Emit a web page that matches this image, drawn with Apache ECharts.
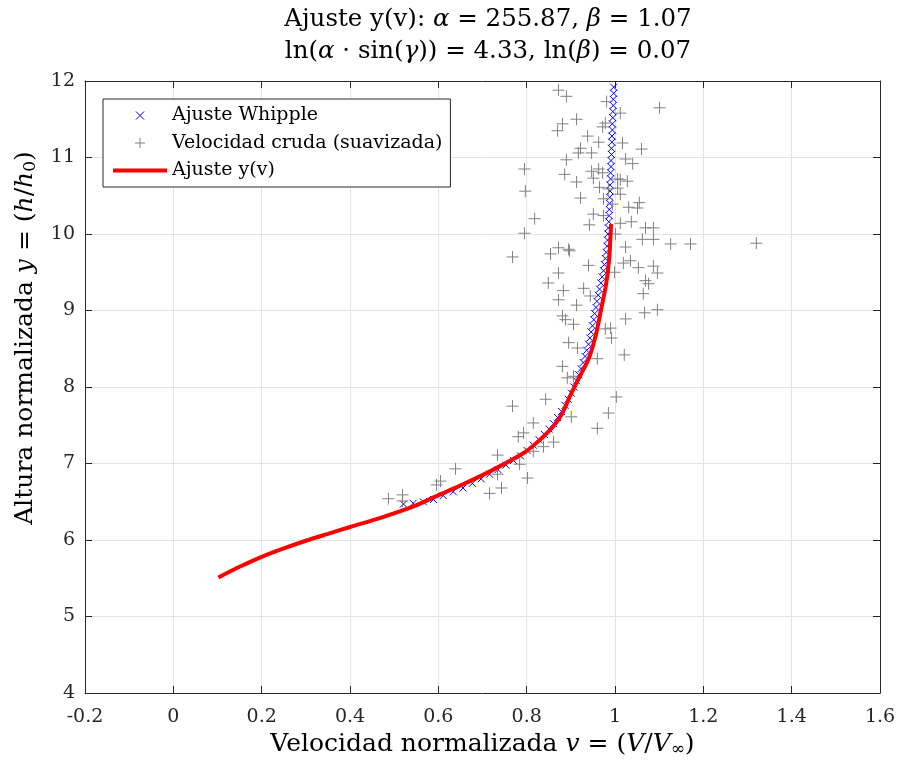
<!DOCTYPE html>
<html><head><meta charset="utf-8">
<script src="https://cdn.jsdelivr.net/npm/echarts@6/dist/echarts.min.js"></script>
<style>html,body{margin:0;padding:0;background:#fff}#c{width:899px;height:770px}</style>
</head><body><div id="c"></div>
<script>
// ---- data ----
const xMin = -0.2, xMax = 1.6, xStep = 0.2;
const yMin = 4, yMax = 12, yStep = 1;

// Whipple fit (blue x)
const whipV = [0.521,0.543,0.566,0.589,0.611,0.634,0.656,0.677,0.697,0.716,0.735,0.753,0.770,0.786,0.801,0.815,0.828,0.840,0.851,0.861,0.870,0.879,0.887,0.894,0.901,0.907,0.913,0.918,0.923,0.928,0.932,0.936,0.940,0.943,0.946,0.949,0.952,0.954,0.957,0.959,0.962,0.965,0.968,0.971,0.974,0.976,0.978,0.980,0.982,0.983,0.984,0.985,0.986,0.987,0.987,0.988,0.988,0.989,0.989,0.990,0.990,0.991,0.991,0.992,0.992,0.993,0.993,0.994,0.994,0.995,0.995,0.996,0.996,0.997,0.997];
const whipY = [6.47,6.48,6.50,6.53,6.58,6.63,6.68,6.74,6.80,6.86,6.92,6.98,7.04,7.10,7.17,7.24,7.31,7.38,7.45,7.52,7.60,7.68,7.76,7.84,7.92,8.00,8.08,8.16,8.24,8.32,8.40,8.48,8.56,8.64,8.72,8.80,8.88,8.96,9.04,9.12,9.20,9.28,9.36,9.44,9.52,9.60,9.68,9.76,9.84,9.92,10.00,10.08,10.16,10.24,10.32,10.40,10.48,10.56,10.64,10.72,10.80,10.88,10.96,11.04,11.12,11.20,11.28,11.36,11.44,11.52,11.60,11.68,11.76,11.84,11.92];

// Raw smoothed velocity (gray +)
const rawV = [0.872,0.890,0.981,1.012,1.101,0.913,0.881,0.870,0.978,0.972,0.938,0.963,1.017,1.060,0.922,0.917,0.947,0.890,1.024,1.040,0.795,0.886,0.947,0.963,0.972,0.951,0.913,0.797,0.965,1.006,1.012,1.028,0.922,0.985,1.006,1.012,0.974,0.994,1.031,1.051,1.055,0.951,0.818,1.012,1.037,0.942,0.795,1.001,1.069,1.087,1.062,1.087,1.126,1.171,1.320,0.872,0.895,1.024,0.768,0.854,0.897,0.940,0.872,0.849,0.999,1.019,1.035,1.053,1.087,1.096,1.069,1.076,1.064,0.883,0.872,0.929,0.944,0.913,0.881,0.888,0.906,1.024,1.067,1.096,0.978,0.990,0.992,0.895,0.915,1.021,0.960,0.881,0.892,0.906,1.003,0.843,0.768,0.901,0.960,0.985,0.781,0.793,0.815,0.838,0.861,0.815,0.784,0.802,0.734,0.734,0.716,0.743,0.639,0.596,0.605,0.487,0.519,0.519,0.974];
const rawY = [11.88,11.80,11.73,11.58,11.65,11.50,11.44,11.35,11.45,11.40,11.28,11.20,11.19,11.11,11.12,11.06,11.06,10.97,10.98,10.92,10.85,10.78,10.82,10.85,10.80,10.73,10.68,10.56,10.61,10.72,10.71,10.69,10.47,10.59,10.60,10.52,10.46,10.39,10.35,10.34,10.41,10.26,10.20,10.14,10.16,10.12,10.01,10.00,10.08,10.08,9.93,9.93,9.87,9.87,9.88,9.82,9.80,9.83,9.70,9.74,9.78,9.59,9.49,9.36,9.50,9.62,9.65,9.56,9.58,9.49,9.39,9.35,9.22,9.26,9.14,9.29,9.19,9.07,8.93,8.88,8.82,8.89,8.97,9.01,8.76,8.77,8.64,8.58,8.51,8.42,8.37,8.27,8.12,8.14,7.87,7.84,7.75,7.61,7.46,7.66,7.35,7.40,7.53,7.22,7.28,7.16,6.99,6.81,7.11,6.86,6.61,6.68,6.93,6.72,6.77,6.54,6.59,6.51,10.24];

// y(v) fit (red line)
const fitV = [0.102,0.15,0.2,0.25,0.3,0.35,0.4,0.469,0.544,0.598,0.657,0.718,0.794,0.832,0.861,0.880,0.899,0.923,0.941,0.957,0.968,0.980,0.987,0.991];
const fitY = [5.51,5.65,5.78,5.89,5.99,6.08,6.17,6.29,6.44,6.58,6.73,6.90,7.14,7.32,7.49,7.65,7.89,8.17,8.38,8.69,9.00,9.35,9.69,10.13];

const seriesNames = ['Ajuste Whipple', 'Velocidad cruda (suavizada)', 'Ajuste y(v)'];

// ---- chart ----
const FF = 'DejaVu Serif';
const zip = (a, b) => a.map((v, i) => [v, b[i]]);
const chart = echarts.init(document.getElementById('c'), null, {renderer: 'canvas'});

const axisCommon = {
  axisLine: {show: true, onZero: false, lineStyle: {color: '#262626', width: 1}},
  axisTick: {show: true, inside: true, length: 7, lineStyle: {color: '#262626'}},
};

chart.setOption({
  animation: false,
  backgroundColor: '#fff',
  title: {
    text: 'Ajuste y(v): {i|α} = 255.87, {i|β} = 1.07\nln({i|α} · sin({i|γ})) = 4.33, ln({i|β}) = 0.07',
    left: 483, top: -1, textAlign: 'center',
    textStyle: {fontFamily: FF, fontSize: 24.5, fontWeight: 'normal', color: '#000', lineHeight: 32,
      rich: {i: {fontFamily: FF, fontSize: 24.5, fontStyle: 'italic', color: '#000', lineHeight: 32}}}
  },
  grid: {left: 85, right: 19, top: 81, bottom: 77, containLabel: false},
  legend: {
    orient: 'vertical', left: 103, top: 99,
    padding: [7, 8, 7, 8], itemGap: 8.5, itemWidth: 54, itemHeight: 12,
    backgroundColor: '#fff', borderColor: '#262626', borderWidth: 1, borderRadius: 0,
    textStyle: {fontFamily: FF, fontSize: 19, color: '#000'},
    data: [
      {name: seriesNames[0], icon: 'path://M0,0L0,0M54,12L54,12M23,2L31,10M31,2L23,10',
       itemStyle: {color: 'rgba(0,0,0,0)', borderColor: '#0000ff', borderWidth: 1}},
      {name: seriesNames[1], icon: 'path://M0,0L0,0M54,12L54,12M22,6L32,6M27,1L27,11',
       itemStyle: {color: 'rgba(0,0,0,0)', borderColor: '#808080', borderWidth: 1}},
      {name: seriesNames[2],
       itemStyle: {color: 'rgba(0,0,0,0)', borderColor: 'rgba(0,0,0,0)', borderWidth: 0, opacity: 0},
       lineStyle: {color: '#ff0000', width: 4}}
    ]
  },
  xAxis: [
    Object.assign({
      type: 'value', min: xMin, max: xMax, interval: xStep, position: 'bottom',
      axisLabel: {fontFamily: FF, fontSize: 19, color: '#262626', margin: 15,
        formatter: v => (Math.round(v * 10) / 10).toString()},
      splitLine: {show: true, lineStyle: {color: '#e3e3e3', width: 1}},
      name: 'Velocidad normalizada {i|v} = ({i|V}/{i|V}{s|∞})',
      nameLocation: 'middle', nameGap: 36,
      nameTextStyle: {fontFamily: FF, fontSize: 25, color: '#000',
        rich: {i: {fontFamily: FF, fontSize: 25, fontStyle: 'italic', color: '#000'},
               s: {fontFamily: FF, fontSize: 17, color: '#000', padding: [10, 0, 0, 0]}}}
    }, axisCommon),
    Object.assign({
      type: 'value', min: xMin, max: xMax, interval: xStep, position: 'top',
      axisLabel: {show: false}, splitLine: {show: false}
    }, axisCommon)
  ],
  yAxis: [
    Object.assign({
      type: 'value', min: yMin, max: yMax, interval: yStep, position: 'left',
      axisLabel: {fontFamily: FF, fontSize: 19, color: '#262626', margin: 10},
      splitLine: {show: true, lineStyle: {color: '#e3e3e3', width: 1}},
      name: 'Altura normalizada {i|y} = ({i|h}/{i|h}{s|0})',
      nameLocation: 'middle', nameGap: 46, nameRotate: 90,
      nameTextStyle: {fontFamily: FF, fontSize: 25, color: '#000', padding: [0, 0, 0, 98],
        rich: {i: {fontFamily: FF, fontSize: 25, fontStyle: 'italic', color: '#000'},
               s: {fontFamily: FF, fontSize: 17, color: '#000', padding: [10, 0, 0, 0]}}}
    }, axisCommon),
    Object.assign({
      type: 'value', min: yMin, max: yMax, interval: yStep, position: 'right',
      axisLabel: {show: false}, splitLine: {show: false}
    }, axisCommon)
  ],
  series: [
    {
      name: seriesNames[0], type: 'scatter', xAxisIndex: 0, yAxisIndex: 0,
      symbol: 'path://M0,0L10,10M10,0L0,10', symbolSize: 7,
      itemStyle: {color: 'rgba(0,0,0,0)', borderColor: '#0000ff', borderWidth: 1, opacity: 1},
      emphasis: {disabled: true},
      data: zip(whipV, whipY), z: 2
    },
    {
      name: seriesNames[1], type: 'scatter', xAxisIndex: 0, yAxisIndex: 0,
      symbol: 'path://M5,0L5,10M0,5L10,5', symbolSize: 12,
      itemStyle: {color: 'rgba(0,0,0,0)', borderColor: '#808080', borderWidth: 1, opacity: 1},
      emphasis: {disabled: true},
      data: zip(rawV, rawY), z: 3
    },
    {
      name: seriesNames[2], type: 'line', xAxisIndex: 0, yAxisIndex: 0,
      showSymbol: false, symbol: 'none', smooth: 0.3,
      lineStyle: {color: '#ff0000', width: 4},
      itemStyle: {color: '#ff0000'},
      emphasis: {disabled: true},
      data: zip(fitV, fitY), z: 4
    }
  ]
});
</script>
</body></html>
